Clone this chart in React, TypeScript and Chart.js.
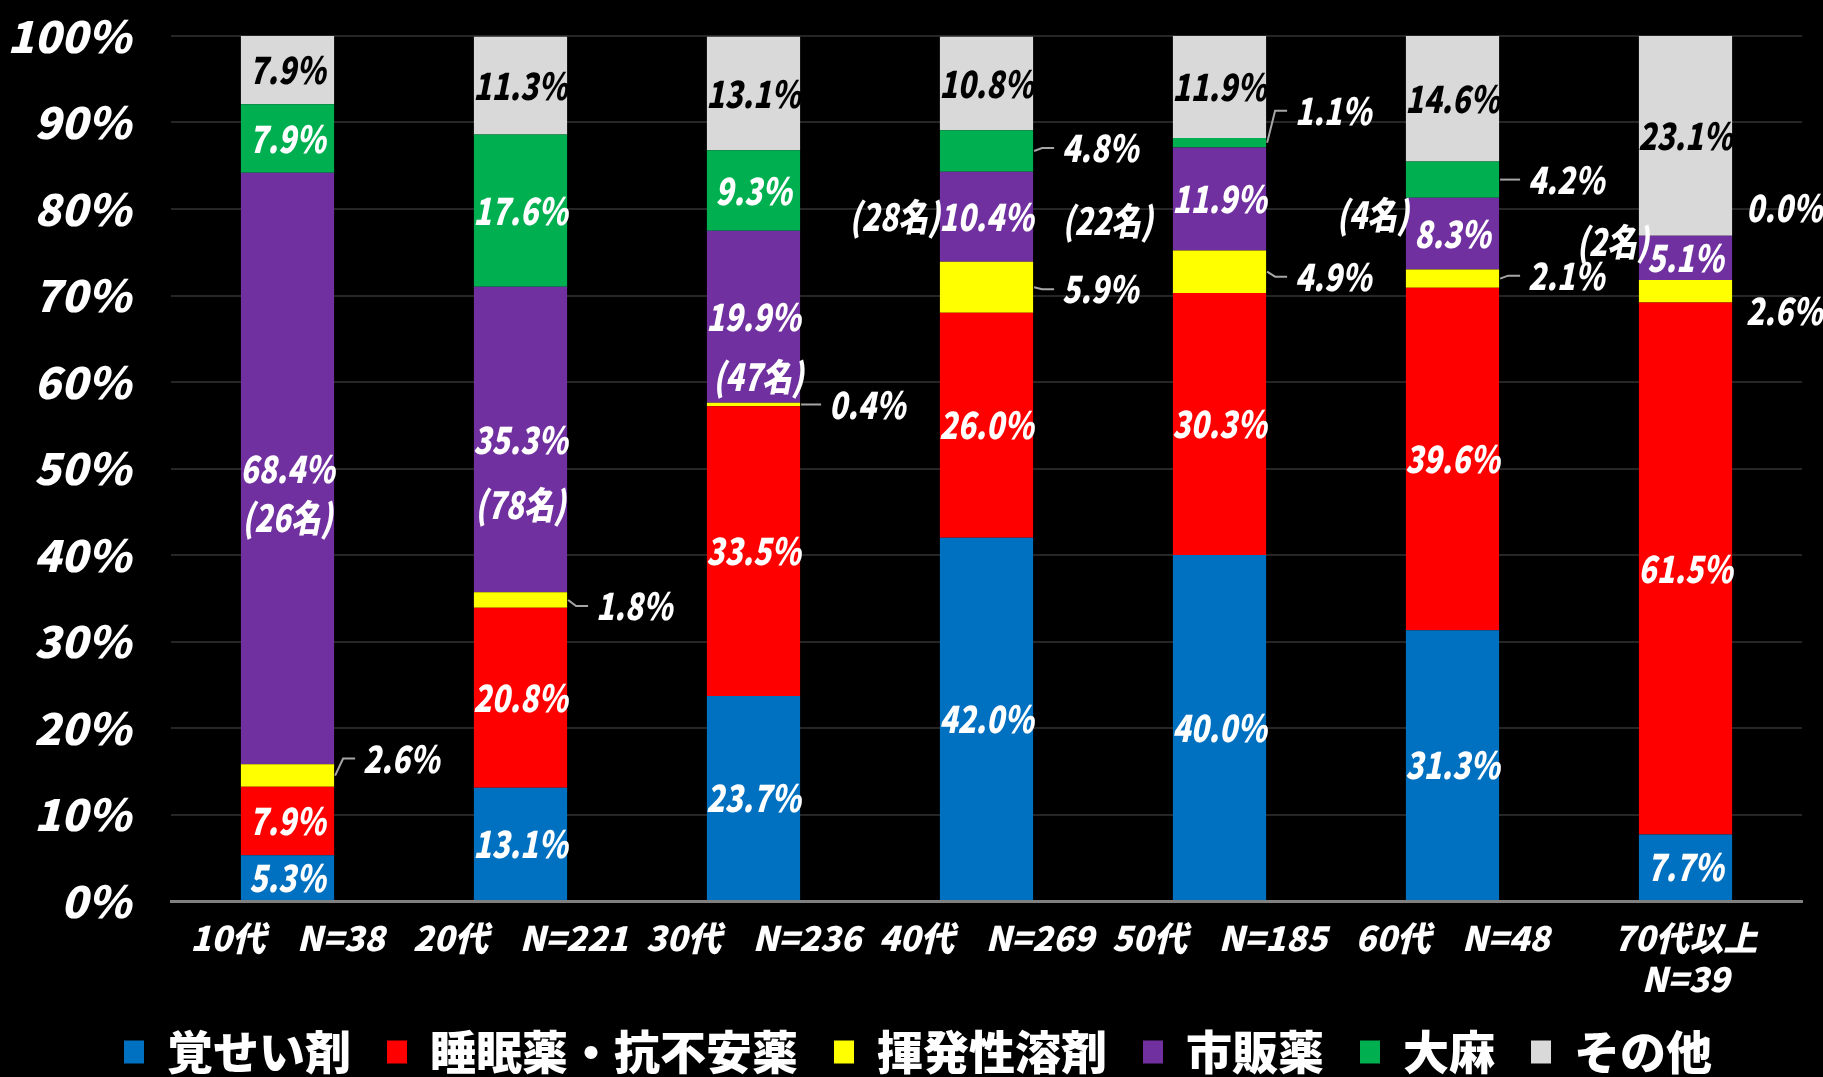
import React, { useEffect, useRef } from 'react';
import { Chart, registerables } from 'chart.js';

Chart.register(...registerables);

// ---- data ----
const categories: (string | string[])[] = [
  '10代    N=38',
  '20代    N=221',
  '30代    N=236',
  '40代    N=269',
  '50代    N=185',
  '60代    N=48',
  ['70代以上', 'N=39'],
];
const seriesNames = ['覚せい剤', '睡眠薬・抗不安薬', '揮発性溶剤', '市販薬', '大麻', 'その他'];
const stimulants = [5.3, 13.1, 23.7, 42.0, 40.0, 31.3, 7.7];
const sedatives = [7.9, 20.8, 33.5, 26.0, 30.3, 39.6, 61.5];
const solvents = [2.6, 1.8, 0.4, 5.9, 4.9, 2.1, 2.6];
const otcDrugs = [68.4, 35.3, 19.9, 10.4, 11.9, 8.3, 5.1];
const cannabis = [7.9, 17.6, 9.3, 4.8, 1.1, 4.2, 0.0];
const others = [7.9, 11.3, 13.1, 10.8, 11.9, 14.6, 23.1];
const otcCounts = [26, 78, 47, 28, 22, 4, 2];
const yTickValues = [0, 10, 20, 30, 40, 50, 60, 70, 80, 90, 100];

// ---- styles ----
const colors = ['#0070C0', '#FF0000', '#FFFF00', '#7030A0', '#00B050', '#D9D9D9'];
const FAMILY = '"Noto Sans CJK JP", "Noto Sans", sans-serif';
const valueFont = `italic 900 34px ${FAMILY}`;
const SX = 0.88;
const SY = 1.1;
// vertical nudges (px) for labels drawn outside the bars, key = category-dataset
const outsideNudge: Record<string, number> = {
  '0-2': -17, '1-2': 6, '2-2': 0, '3-2': 2, '3-4': -3, '4-2': 5, '4-4': -32,
  '5-2': -3, '5-4': 0, '6-2': 20, '6-4': -28,
};
// placement of the count labels: inside (below value) or left of the bar
const countPlace = [
  { inside: true, dx: 0, dy: 49 },
  { inside: true, dx: 0, dy: 65 },
  { inside: true, dx: 5, dy: 60 },
  { inside: false, dx: 0, dy: 0 },
  { inside: false, dx: -20, dy: 22 },
  { inside: false, dx: 3, dy: -19 },
  { inside: false, dx: 10, dy: -16 },
];

function drawText(ctx: CanvasRenderingContext2D, text: string, x: number, y: number, align: CanvasTextAlign) {
  ctx.save();
  ctx.translate(x, y);
  ctx.scale(SX, SY);
  ctx.textAlign = align;
  ctx.textBaseline = 'middle';
  ctx.fillText(text, 0, 0);
  ctx.restore();
}

const labelPlugin = {
  id: 'segLabels',
  afterLayout(chart: any) {
    const l = chart.legend;
    if (l) { l.left += 17; l.right += 17; }
  },
  afterDatasetsDraw(chart: any) {
    const ctx: CanvasRenderingContext2D = chart.ctx;
    ctx.save();
    ctx.font = valueFont;
    const nCat = chart.data.labels.length;
    chart.data.datasets.forEach((ds: any, di: number) => {
      const meta = chart.getDatasetMeta(di);
      meta.data.forEach((bar: any, ci: number) => {
        const v = ds.data[ci] as number;
        const p = bar.getProps(['x', 'y', 'base', 'width'], true);
        const top = Math.max(p.y, chart.chartArea.top);
        const cy = (top + p.base) / 2;
        const left = p.x - p.width / 2;
        const right = p.x + p.width / 2;
        const text = v.toFixed(1) + '%';
        const outside = di === 2 || (di === 4 && v < 6);
        if (!outside) {
          ctx.fillStyle = di === 5 ? '#000000' : '#FFFFFF';
          drawText(ctx, text, p.x, cy, 'center');
        } else {
          const key = `${ci}-${di}`;
          const ly = cy + (outsideNudge[key] || 0);
          const isLast = ci === nCat - 1;
          ctx.fillStyle = '#FFFFFF';
          if (isLast) {
            drawText(ctx, text, right + 14, ly, 'left');
          } else {
            ctx.strokeStyle = '#A6A6A6';
            ctx.lineWidth = 2;
            ctx.beginPath();
            ctx.moveTo(right + 1, cy);
            ctx.lineTo(right + 9, ly);
            ctx.lineTo(right + 21, ly);
            ctx.stroke();
            drawText(ctx, text, right + 29, ly, 'left');
          }
        }
        if (di === 3) {
          const cp = countPlace[ci];
          const ct = `(${otcCounts[ci]}名)`;
          ctx.fillStyle = '#FFFFFF';
          if (cp.inside) {
            drawText(ctx, ct, p.x + cp.dx, cy + cp.dy, 'center');
          } else {
            drawText(ctx, ct, left + cp.dx, cy + cp.dy, 'right');
          }
        }
      });
    });
    ctx.restore();
  },
};

export default function App() {
  const ref = useRef<HTMLCanvasElement>(null);
  useEffect(() => {
    document.body.style.margin = '0';
    document.body.style.background = '#000';
    const seriesData = [stimulants, sedatives, solvents, otcDrugs, cannabis, others];
    const chart = new Chart(ref.current as HTMLCanvasElement, {
      type: 'bar',
      data: {
        labels: categories,
        datasets: seriesNames.map((name, i) => ({
          label: name,
          data: seriesData[i],
          backgroundColor: colors[i],
          borderWidth: 0,
          barPercentage: 0.4,
          categoryPercentage: 1,
        })),
      },
      options: {
        animation: false,
        responsive: false,
        maintainAspectRatio: false,
        layout: { padding: { top: 36, right: 21, left: 0, bottom: -8 } },
        scales: {
          x: {
            stacked: true,
            grid: { display: false, drawTicks: false },
            border: { display: true, color: '#808080', width: 3 },
            ticks: {
              color: '#FFFFFF',
              padding: 17,
              maxRotation: 0,
              autoSkip: false,
              font: { family: FAMILY, size: 34, weight: 900, style: 'italic', lineHeight: 1.2 },
            },
            afterFit: (s: any) => { s.height = 92; s.paddingLeft = 0; s.paddingRight = 0; },
          },
          y: {
            stacked: true,
            min: 0,
            max: 100,
            afterBuildTicks: (s: any) => { s.ticks = yTickValues.map((v) => ({ value: v })); },
            grid: { color: '#262626', lineWidth: 2, drawTicks: false },
            border: { display: false },
            ticks: {
              color: '#FFFFFF',
              padding: 40,
              callback: (v: any) => `${v}%`,
              font: { family: FAMILY, size: 44, weight: 900, style: 'italic' },
            },
            afterFit: (s: any) => { s.width = 171; s.paddingTop = 0; s.paddingBottom = 0; },
          },
        },
        plugins: {
          legend: {
            position: 'bottom',
            labels: {
              color: '#FFFFFF',
              boxWidth: 20,
              boxHeight: 23,
              padding: 36,
              font: { family: FAMILY, size: 46, weight: 900 },
            },
          },
          tooltip: { enabled: false },
        },
      },
      plugins: [labelPlugin],
    } as any);
    return () => chart.destroy();
  }, []);
  return (
    <div style={{ width: 1823, height: 1077, background: '#000' }}>
      <canvas ref={ref} width={1823} height={1077} />
    </div>
  );
}
